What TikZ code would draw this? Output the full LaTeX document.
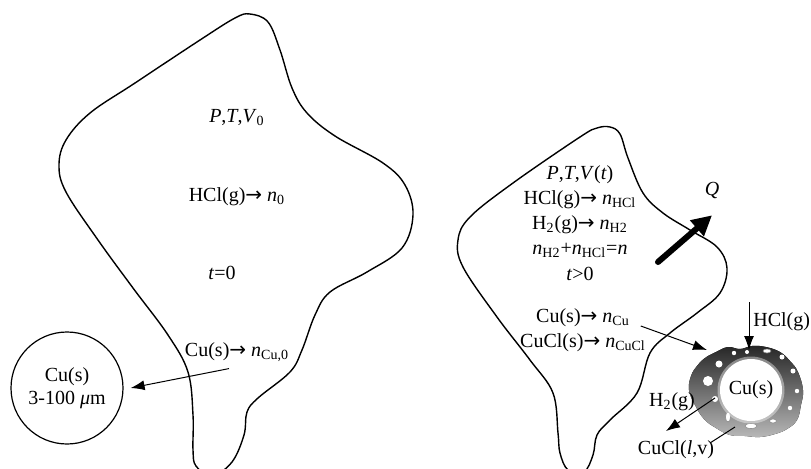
\documentclass[tikz,border=0pt]{standalone}
\usepackage{fontspec}
\setmainfont{Liberation Serif}
\newfontfamily\arrowfont{DejaVu Sans}
\usetikzlibrary{arrows.meta}
\usetikzlibrary{positioning}
\newcommand{\nsub}[1]{\textit{n}\textsubscript{#1}}
\newcommand{\yields}{{\arrowfont →} }

\begin{document}
\begin{tikzpicture}[x=0.5pt,y=-0.5pt]
        \tikzset{
          every node/.style={font=\fontsize{10}{12}\selectfont},
          node distance=12.5pt,
          blobline/.style={line width=0.7pt, line join=round},
          flow/.style={-{Latex[length=7pt,width=5pt]}, line width=0.5pt},
          heat/.style={-{Triangle[length=10pt,width=10pt]}, line width=3pt, line cap=round},
          hole/.style={fill=white, draw=black!45, line width=0.3pt},
        }
        \useasboundingbox (0,0) rectangle (811,468);

        % volume at t=0
        \draw[blobline] plot[smooth cycle, tension=0.6] coordinates {
          (250,14) (268,22) (280,50) (292,88) (307,113) (335,136) (383,163)
          (405,185) (413,215) (402,248) (367,272) (330,292) (315,315) (302,350)
          (290,372) (258,398) (247,412) (244,435) (232,462) (212,476) (196,466)
          (193,450) (193,415) (188,372) (168,335) (133,288) (98,240) (66,192)
          (59,165) (66,140) (90,113) (135,83) (200,40) (235,18)};

        \node (ptv0) at (237,118) {\textit{P},\textit{T},\textit{V}\textsubscript{0}};
        \node (hcl0) at (237,197) {HCl(g)\yields\textit{n}\textsubscript{0}};
        \node (tzero) at (222,273) {\textit{t}=0};
        \node (cu0) at (237,352) {Cu(s)\yields\nsub{Cu,0}};
        \node[circle, draw, line width=0.6pt, minimum size=56pt, inner sep=0pt,
              align=center] (grain) at (67,388) {Cu(s)\\[-0.5pt]3-100 \textit{μ}m};

        % volume at t>0
        \draw[blobline] plot[smooth cycle, tension=0.6] coordinates {
          (610,127) (620,134) (628,158) (643,193) (663,213) (690,230) (717,247)
          (727,268) (720,293) (697,313) (670,333) (650,353) (637,393) (610,420)
          (597,435) (593,455) (584,472) (568,470) (560,453) (558,433) (553,393)
          (530,360) (497,317) (463,267) (458,240) (470,217) (513,183) (580,137)
          (597,128)};

        \node (ptv) at (580,175) {\textit{P},\textit{T},\textit{V}(\textit{t})};
        \node[below of=ptv] (hcl) {HCl(g)\yields\nsub{HCl}};
        \node[below of=hcl] (h2) {H\textsubscript{2}(g)\yields\nsub{H2}};
        \node[below of=h2] (nsum) {\nsub{H2}+\nsub{HCl}=\textit{n}};
        \node[below of=nsum, yshift=0.5pt] (tpos) {\textit{t}>0};
        \node (cu) at (583,318) {Cu(s)\yields\nsub{Cu}};
        \node[below of=cu] (cucl) {CuCl(s)\yields\nsub{CuCl}};

        \node (heatq) at (712,190) {\textit{Q}};
        \coordinate (qfrom) at (658,262);

        % reacting particle
        \fill[top color=black!85, bottom color=black!28] plot[smooth cycle, tension=0.7] coordinates {
          (803,390) (801,405) (797,420) (787,429) (775,434) (760,437) (745,436)
          (730,435) (716,428) (704,419) (695,405) (689,390) (691,376) (697,366)
          (705,358) (716,352) (728,347) (740,349) (752,346) (766,347) (780,352)
          (790,361) (798,372)};
        \foreach \hx/\hy/\hr in {708/381/5, 719/364/3.5, 715/399/3, 734/353/2.2,
            747/352/2, 782/357/2.5, 793/371/2.5, 797/391/2.2, 790/408/2.2}
          \fill[white] (\hx,\hy) circle (\hr);
        \foreach \hx/\hy/\ha/\hb in {767/351/4/2, 728/417/2.5/5, 751/426/6/2.5, 773/421/3.5/2}
          \draw[hole] (\hx,\hy) ellipse ({\ha} and {\hb});
        \fill[white, opacity=0.4] (751,390) circle (33.5);
        \node[circle, fill=white, minimum size=31pt, inner sep=0pt] (core) at (751,390) {Cu(s)};

        \node[anchor=west, inner sep=1pt] (hclg) at (751,322) {HCl(g)};
        \coordinate (hcltop) at (749,302);
        \coordinate (shelltop) at (749,350);
        \coordinate (shellnw) at (707,350);
        \coordinate (h2from) at (715,398);
        \node (h2g) at (672,402) {H\textsubscript{2}(g)};
        \coordinate (h2to) at (666,431);
        \node (cuclv) at (676,450) {CuCl(\textit{l},v)};
        \coordinate (cuclfrom) at (710,443);
        \coordinate (cuclto) at (735,427);

        \draw[flow] ([xshift=-4pt]cu0.south) -- ([xshift=3.5pt]grain.east);
        \draw[flow] ([shift={(2pt,-4pt)}]cu.east) -- (shellnw);
        \draw[heat] (qfrom) -- ([yshift=-5pt]heatq.south);
        \draw[flow] (hcltop) -- (shelltop);
        \draw[flow] (h2from) -- (h2to);
        \draw[line width=0.5pt] (cuclfrom) -- (cuclto);
\end{tikzpicture}
\end{document}
